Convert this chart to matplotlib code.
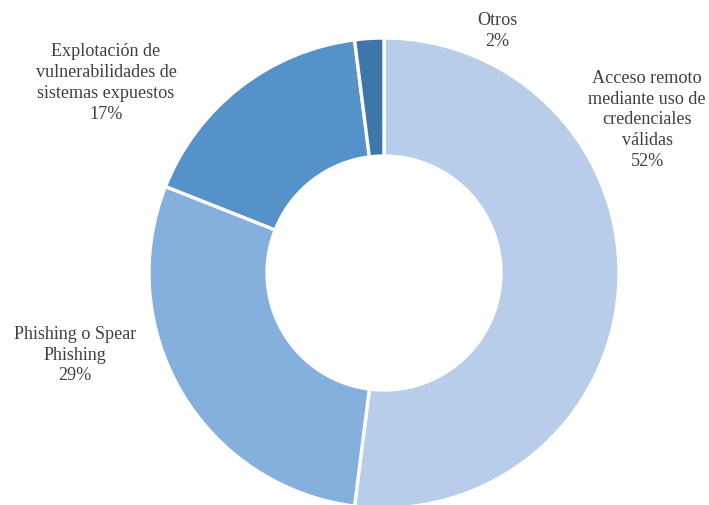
import matplotlib.pyplot as plt

# Vías de acceso inicial
categorias = ["Acceso remoto\nmediante uso de\ncredenciales\nválidas",
              "Phishing o Spear\nPhishing",
              "Explotación de\nvulnerabilidades de\nsistemas expuestos",
              "Otros"]
porcentajes = [52, 29, 17, 2]
colores = ["#b8cde9", "#85afdc", "#5592c9", "#3f76aa"]

# posiciones de las etiquetas (px desde arriba)
pos_etiquetas = [(647, 120), (75, 355), (106, 83), (497, 31)]

W, H = 709, 505
plt.rcParams['font.family'] = ['Liberation Serif', 'DejaVu Serif']

fig = plt.figure(figsize=(W / 100, H / 100), dpi=100)
ax = fig.add_axes([0, 0, 1, 1])

ax.pie(porcentajes, colors=colores, startangle=90, counterclock=False,
       center=(384, H - 273), radius=235,
       wedgeprops=dict(width=118, edgecolor='white', linewidth=2.4))

# pie() fija sus propios límites, se reajustan después
ax.set_xlim(0, W)
ax.set_ylim(0, H)
ax.set_aspect('equal')
ax.axis('off')

for cat, pct, (x, y) in zip(categorias, porcentajes, pos_etiquetas):
    ax.text(x, H - y, f"{cat}\n{pct}%", ha='center', va='center',
            multialignment='center', fontsize=13.1, color='#404040',
            linespacing=1.3)

fig.savefig("out.png", dpi=100)
